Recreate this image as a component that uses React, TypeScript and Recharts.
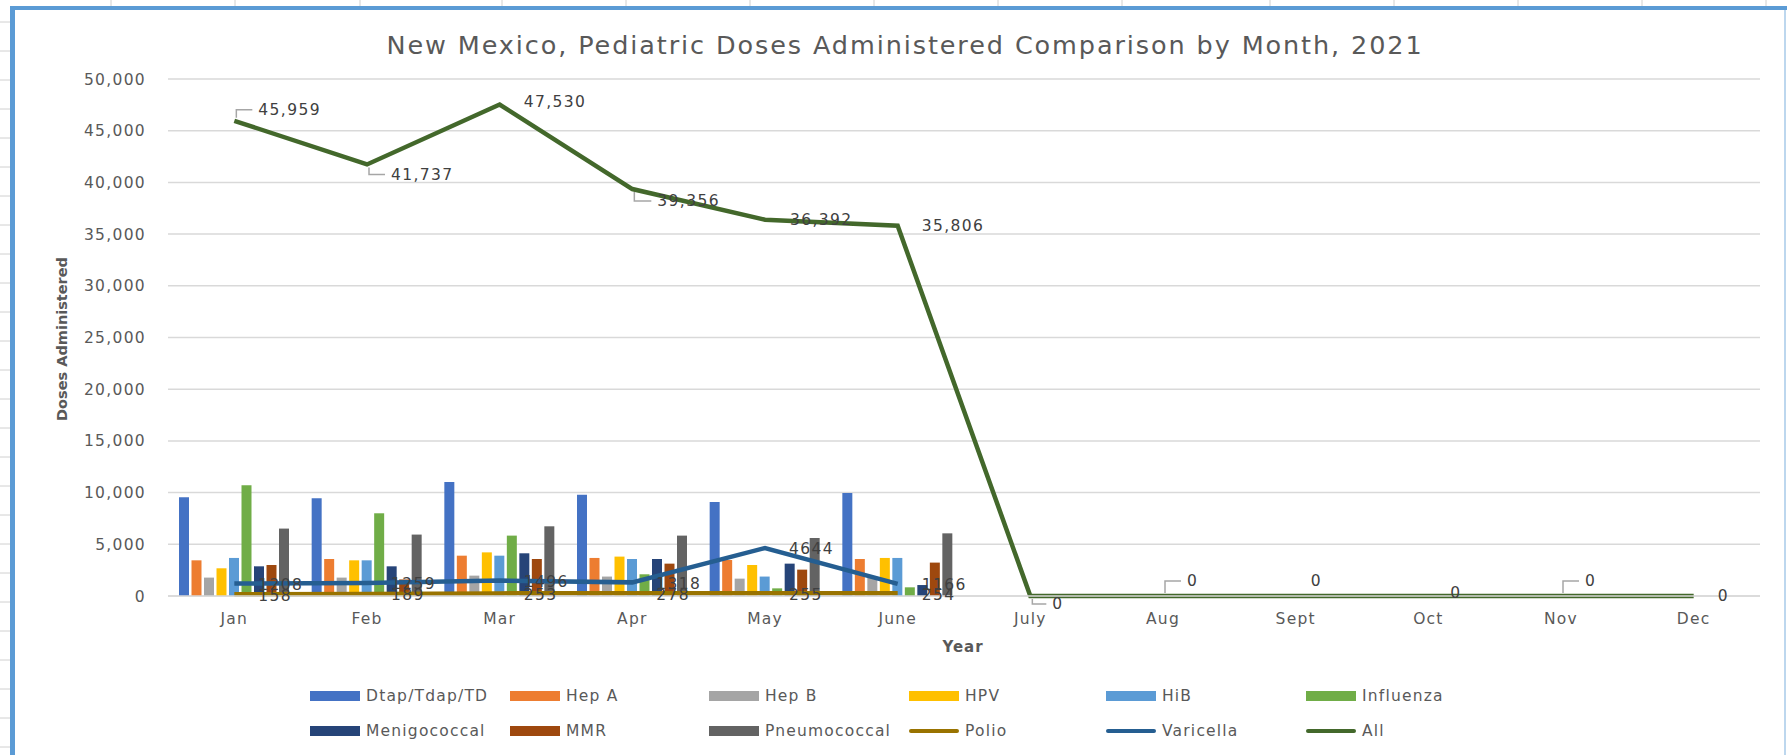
import React from 'react';
import { Bar, CartesianGrid, ComposedChart, Line, XAxis, YAxis } from 'recharts';

const MONTHS = ['Jan', 'Feb', 'Mar', 'Apr', 'May', 'June', 'July', 'Aug', 'Sept', 'Oct', 'Nov', 'Dec'];

// bar series, Jan..June (no data after June)
const DTAP = [9550, 9450, 11030, 9800, 9100, 9960];
const HEP_A = [3450, 3580, 3900, 3680, 3480, 3580];
const HEP_B = [1780, 1780, 1970, 1880, 1680, 1780];
const HPV = [2680, 3450, 4220, 3810, 3000, 3680];
const HIB = [3680, 3450, 3900, 3580, 1880, 3680];
const INFLUENZA = [10700, 8000, 5840, 2100, 740, 840];
const MENIGOCOCCAL = [2870, 2870, 4130, 3580, 3130, 1060];
const MMR = [3000, 1600, 3580, 3130, 2550, 3230];
const PNEUMOCOCCAL = [6520, 5940, 6740, 5840, 5610, 6060];

// line series
const POLIO = [158, 189, 253, 278, 255, 254];
const VARICELLA = [1208, 1259, 1496, 1318, 4644, 1166];
const ALL = [45959, 41737, 47530, 39356, 36392, 35806, 0, 0, 0, 0, 0, 0];

const Y_TICKS = [0, 5000, 10000, 15000, 20000, 25000, 30000, 35000, 40000, 45000, 50000];

const BARS = [
  { key: 'dtap', name: 'Dtap/Tdap/TD', values: DTAP, color: '#4472c4' },
  { key: 'hepA', name: 'Hep A', values: HEP_A, color: '#ed7d31' },
  { key: 'hepB', name: 'Hep B', values: HEP_B, color: '#a5a5a5' },
  { key: 'hpv', name: 'HPV', values: HPV, color: '#ffc000' },
  { key: 'hib', name: 'HiB', values: HIB, color: '#5b9bd5' },
  { key: 'influenza', name: 'Influenza', values: INFLUENZA, color: '#70ad47' },
  { key: 'menig', name: 'Menigococcal', values: MENIGOCOCCAL, color: '#264478' },
  { key: 'mmr', name: 'MMR', values: MMR, color: '#9e480e' },
  { key: 'pneumo', name: 'Pneumococcal', values: PNEUMOCOCCAL, color: '#636363' },
];

const LINES = [
  { key: 'polio', name: 'Polio', values: POLIO, color: '#997300' },
  { key: 'varicella', name: 'Varicella', values: VARICELLA, color: '#255e91' },
  { key: 'all', name: 'All', values: ALL, color: '#43682b' },
];

const data = MONTHS.map((month, i) => {
  const row: Record<string, any> = { month };
  [...BARS, ...LINES].forEach((s) => {
    row[s.key] = s.values[i] ?? null;
  });
  return row;
});

// label placement for the "All" series: [dx, dy, leader line]
const ALL_LABEL_POS: [number, number, boolean][] = [
  [24, -11, true],
  [24, 10, true],
  [24, -3, false],
  [25, 12, true],
  [25, 0, false],
  [24, 0, false],
  [22, 8, true],
  [24, -15, true],
  [15, -15, false],
  [22, -3, false],
  [24, -15, true],
  [24, 0, false],
];

const FONT = '"DejaVu Sans", sans-serif';
const TEXT = '#595959';
const LABEL = '#404040';

function AllLabel(props: any) {
  const { x, y, value, index } = props;
  if (value == null || x == null || y == null) return null;
  const [dx, dy, leader] = ALL_LABEL_POS[index] ?? [24, 0, false];
  const tx = x + dx;
  const ty = y + dy;
  return (
    <g>
      {leader && (
        <polyline
          points={`${x + 2},${y + (dy < 0 ? -3 : 3)} ${x + 2},${ty} ${tx - 6},${ty}`}
          fill="none"
          stroke="#a6a6a6"
          strokeWidth={1.5}
        />
      )}
      <text x={tx} y={ty} dy="0.35em" fill={LABEL} fontSize={15.5} letterSpacing={1.4} fontFamily={FONT}>
        {Number(value).toLocaleString('en-US')}
      </text>
    </g>
  );
}

function PlainLabel(props: any) {
  const { x, y, value } = props;
  if (value == null || x == null || y == null) return null;
  return (
    <text x={x + 24} y={y + 1} dy="0.35em" fill={LABEL} fontSize={15.5} letterSpacing={1.4} fontFamily={FONT}>
      {value}
    </text>
  );
}

const LEGEND_X = [310, 510, 709, 909, 1106, 1306];
const LEGEND_Y = [696, 731];
const SHEET_COLS = [111, 235, 360, 502, 626, 750, 874, 998, 1122, 1270, 1394, 1518, 1642, 1766];

function Overlay() {
  const legendItems = [
    ...BARS.map((b) => ({ ...b, line: false })),
    ...LINES.map((l) => ({ ...l, line: true })),
  ];
  const rowTicks: number[] = [];
  for (let y = 22; y < 755; y += 29) rowTicks.push(y);
  return (
    <svg
      width={1787}
      height={755}
      style={{ position: 'absolute', left: 0, top: 0, pointerEvents: 'none' }}
      fontFamily={FONT}
    >
      {SHEET_COLS.map((x) => (
        <line key={x} x1={x} x2={x} y1={0} y2={6} stroke="#d0d0d0" />
      ))}
      {rowTicks.map((y) => (
        <line key={y} x1={0} x2={10} y1={y} y2={y} stroke="#d0d0d0" />
      ))}
      <rect x={10} y={6} width={1777} height={4} fill="#5b9bd5" />
      <rect x={10} y={6} width={5} height={749} fill="#5b9bd5" />
      <rect x={1784} y={10} width={2} height={745} fill="#bdd7ee" />

      <text x={905} y={54} textAnchor="middle" fontSize={25.5} letterSpacing={1.9} fill={TEXT}>
        New Mexico, Pediatric Doses Administered Comparison by Month, 2021
      </text>
      <text x={963} y={652} textAnchor="middle" fontSize={15} fontWeight="bold" letterSpacing={1} fill={TEXT}>
        Year
      </text>
      <text
        transform="translate(62,339) rotate(-90)"
        textAnchor="middle"
        dy="0.35em"
        fontSize={14.5}
        fontWeight="bold"
        fill={TEXT}
      >
        Doses Administered
      </text>

      {legendItems.map((item, i) => {
        const x0 = LEGEND_X[i % 6];
        const cy = LEGEND_Y[Math.floor(i / 6)];
        return (
          <g key={item.key}>
            {item.line ? (
              <rect x={x0} y={cy - 2} width={50} height={4} rx={2} fill={item.color} />
            ) : (
              <rect x={x0} y={cy - 5} width={50} height={10} fill={item.color} />
            )}
            <text x={x0 + 56} y={cy} dy="0.35em" fontSize={15.5} letterSpacing={1.2} fill={TEXT}>
              {item.name}
            </text>
          </g>
        );
      })}
    </svg>
  );
}

export default function App() {
  return (
    <div style={{ position: 'fixed', left: 0, top: 0, width: 1787, height: 755, background: '#fff' }}>
      <ComposedChart
        width={1787}
        height={755}
        data={data}
        margin={{ top: 79, right: 27, left: 88, bottom: 129 }}
        barGap={2.5}
        style={{ fontFamily: FONT }}
      >
        <CartesianGrid vertical={false} stroke="#d9d9d9" strokeWidth={1.5} />
        <XAxis
          dataKey="month"
          height={30}
          tickLine={false}
          tickSize={0}
          tickMargin={17}
          axisLine={{ stroke: '#d9d9d9', strokeWidth: 1.5 }}
          tick={{ fill: TEXT, fontSize: 15.5, letterSpacing: 1.2 }}
          interval={0}
        />
        <YAxis
          width={80}
          domain={[0, 50000]}
          ticks={Y_TICKS}
          tickLine={false}
          tickSize={0}
          tickMargin={22}
          axisLine={false}
          tick={{ fill: TEXT, fontSize: 15.5, letterSpacing: 1.3 }}
          tickFormatter={(v: number) => v.toLocaleString('en-US')}
        />
        {BARS.map((b) => (
          <Bar key={b.key} dataKey={b.key} name={b.name} fill={b.color} barSize={10} isAnimationActive={false} />
        ))}
        <Line
          dataKey="polio"
          name="Polio"
          stroke="#997300"
          strokeWidth={4.5}
          dot={false}
          activeDot={false}
          isAnimationActive={false}
          label={(p: any) => <PlainLabel {...p} />}
        />
        <Line
          dataKey="varicella"
          name="Varicella"
          stroke="#255e91"
          strokeWidth={4.5}
          dot={false}
          activeDot={false}
          isAnimationActive={false}
          label={(p: any) => <PlainLabel {...p} />}
        />
        <Line
          dataKey="all"
          name="All"
          stroke="#43682b"
          strokeWidth={4.5}
          dot={false}
          activeDot={false}
          isAnimationActive={false}
          label={(p: any) => <AllLabel {...p} />}
        />
      </ComposedChart>
      <Overlay />
    </div>
  );
}
